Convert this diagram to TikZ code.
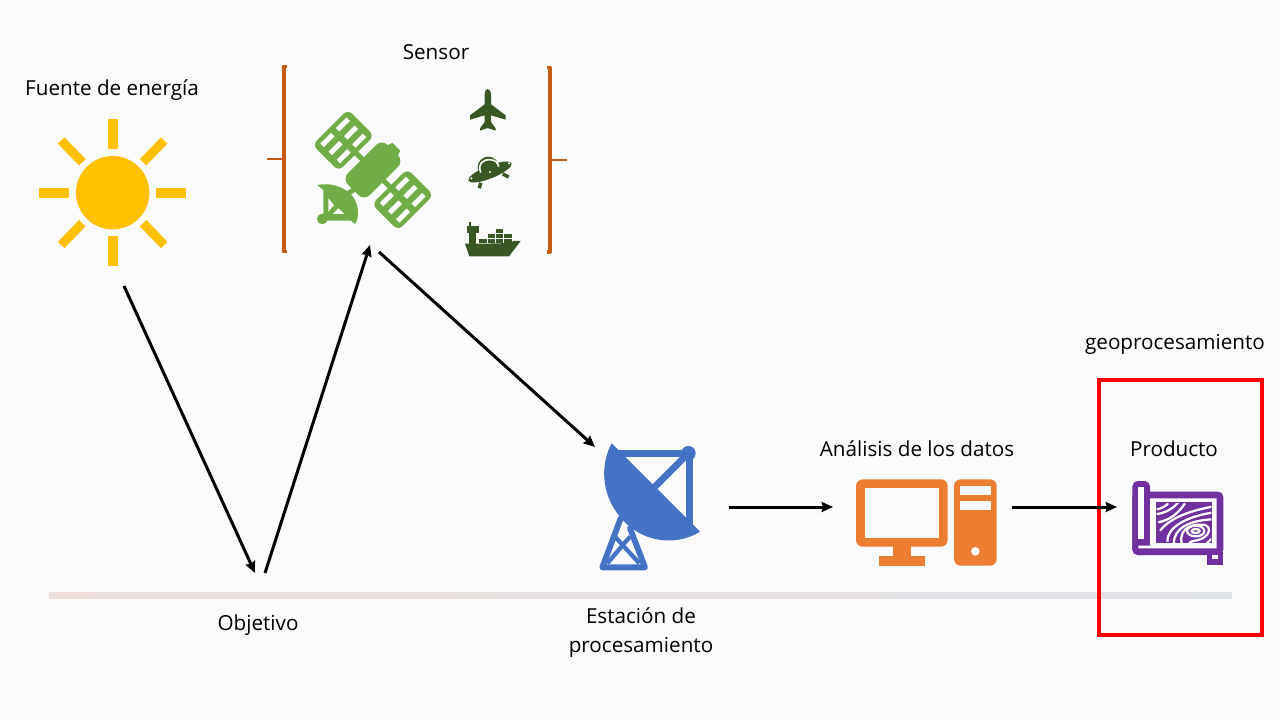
\documentclass[tikz,border=0pt]{standalone}
\usepackage{fontspec}
\setmainfont{Open Sans}
\usetikzlibrary{arrows.meta}
\definecolor{bgc}{HTML}{FBFBFB}
\definecolor{sunc}{HTML}{FFC000}
\definecolor{satc}{HTML}{70AD47}
\definecolor{darkg}{HTML}{385723}
\definecolor{brk}{HTML}{C55A11}
\definecolor{dishc}{HTML}{4472C4}
\definecolor{pcc}{HTML}{ED7D31}
\definecolor{mapc}{HTML}{7030A0}
\definecolor{lineL}{HTML}{EEDFDB}
\definecolor{lineR}{HTML}{E2E4EB}
\tikzset{
  lbl/.style={font=\fontsize{15.5pt}{21.75pt}\selectfont,text=black,inner sep=0pt,align=center},
  flow/.style={draw=black,line width=2.25pt,-{Stealth[length=8.5pt,width=7.5pt,inset=1pt]}},
  bracket/.style={draw=brk,line width=2.8pt,line join=round},
  brtick/.style={draw=brk,line width=1.5pt},
  ray/.style={draw=sunc,line width=7.3pt},
  diagray/.style={draw=sunc,line width=6.8pt},
  zm/.style={scale=0.33333},
  slot/.style={fill=bgc},
  contour/.style={draw=bgc,line width=1.7pt}
}
\begin{document}
\begin{tikzpicture}[x=0.75pt,y=-0.75pt]
\useasboundingbox (0,0) rectangle (1280,720);
\fill[bgc] (0,0) rectangle (1280,720);
% ground line
\shade[left color=lineL,right color=lineR] (49,592) rectangle (1232,598);
% sun
\fill[sunc] (112.7,192.7) circle[radius=36.7];
\draw[ray] (112.7,119.3)--(112.7,149.3);
\draw[ray] (112.7,236)--(112.7,266);
\draw[ray] (39.3,192.7)--(69.3,192.7);
\draw[ray] (156,192.7)--(186,192.7);
\draw[diagray] (61.2,140.5)--(82.3,162.2);
\draw[diagray] (164.2,140.5)--(143.1,162.2);
\draw[diagray] (61.2,245)--(82.3,223.2);
\draw[diagray] (164.2,245)--(143.1,223.2);
% brackets
\draw[bracket] (286.7,66.5)--(283.7,66.5)--(283.7,251.5)--(286.7,251.5);
\draw[brtick] (283.7,159)--(267,159);
\draw[bracket] (546.7,67.5)--(549.7,67.5)--(549.7,252)--(546.7,252);
\draw[brtick] (549.7,159.7)--(566.7,159.7);
% satellite
\begin{scope}[shift={(373,170)},rotate=45]
  \fill[satc,rounded corners=6pt] (-28,-15.5) rectangle (28,15.5);
  \fill[satc] (27,-7.5) -- (33,-5.5) -- (33,5.5) -- (27,7.5) -- cycle;
  \fill[satc] (-2.5,-27) rectangle (2.5,27);
  \foreach \s in {-42,42}{
    \fill[satc,rounded corners=4.5pt] (-25,\s-18.5) rectangle (25,\s+18.5);
    \foreach \c in {-11,11}\foreach \r in {-11.5,0,11.5}
      \fill[slot] (\c-7.5,\s+\r-2.5) rectangle (\c+7.5,\s+\r+2.5);
  }
\end{scope}
\begin{scope}[shift={(260,50)},zm]
  \fill[satc] (172,405) .. controls (225,395) and (270,420) .. (285,450)
     .. controls (297,475) and (297,505) .. (285,522) -- (273,512)
     -- (190,512) -- (190,420) -- cycle;
  \fill[satc] (187,507) circle[radius=16];
  \draw[satc,line width=3.8pt] (262,432) -- (292,412);
  \fill[slot] (205,445) -- (222,465) -- (205,485) -- cycle;
  \fill[slot] (235,475) -- (253,492) -- (218,492) -- cycle;
\end{scope}
% plane
\begin{scope}[shift={(450,80)},zm]
  \fill[darkg] (104,45) .. controls (104,33) and (109,27) .. (113,27)
     .. controls (117,27) and (123,33) .. (123,45) -- (123,135) -- (113,143) -- (104,135) -- cycle;
  \fill[darkg] (104,73) -- (60,106) -- (60,119) -- (104,106) -- (123,106) -- (167,119) -- (167,106) -- (123,73) -- cycle;
  \fill[darkg] (105,125) -- (90,145) -- (90,152) -- (113,144) -- (137,152) -- (137,145) -- (122,125) -- cycle;
\end{scope}
% ufo
\begin{scope}[shift={(260,50)},zm]
  \fill[darkg,rotate around={22:(690,366)}] (690,366) ellipse[x radius=70,y radius=19];
  \fill[darkg] (685,352) circle[radius=32];
  \draw[bgc,line width=1.2pt] (662,368) .. controls (652,340) and (672,327) .. (690,329) .. controls (706,330) and (714,338) .. (716,350);
  \fill[bgc] (634,385) circle[radius=3.5] (690,366) circle[radius=3.5] (747,340) circle[radius=3.5];
  \draw[darkg,line width=2.6pt] (662,398) -- (658,415);
  \draw[darkg,line width=2.6pt] (728,372) -- (746,381);
\end{scope}
% ship
\begin{scope}[shift={(450,80)},zm]
  \fill[darkg] (45,491) -- (100,491) -- (186,489) -- (188,483) -- (212,483) -- (177,529) -- (58,529) -- cycle;
  \fill[darkg] (57,425) rectangle (62,438);
  \fill[darkg] (52,437) rectangle (86,458);
  \fill[darkg] (58,458) rectangle (78,491);
  \foreach \cx/\cy in {88/476,113/462,113/476,138/447,138/462,138/476,163/462,163/476}
    \fill[darkg] (\cx,\cy) rectangle ++(22,12);
\end{scope}
% dish
\begin{scope}[shift={(580,430)},zm]
  \draw[dishc,line width=5pt] (105,70) -- (325,70);
  \draw[dishc,line width=5pt] (328,70) -- (328,290);
  \draw[dishc,line width=5pt] (325,70) -- (225,170);
  \fill[dishc] (325,70) circle[radius=22];
  \fill[dishc] (95,40) .. controls (65,95) and (62,175) .. (105,240)
     .. controls (165,335) and (280,355) .. (360,305) -- cycle;
  \draw[dishc,line width=4.4pt,line cap=round,line join=round] (122,265) -- (67,412) -- (195,412) -- (150,295);
  \draw[dishc,line width=3.2pt] (105,320) -- (178,400) (150,320) -- (82,400);
\end{scope}
% computer
\begin{scope}[shift={(840,470)},zm]
  \fill[pcc,rounded corners=5pt] (48,28) rectangle (323,230);
  \fill[bgc] (75,55) rectangle (297,203);
  \fill[pcc] (158,228) rectangle (213,260);
  \fill[pcc] (117,258) rectangle (255,287);
  \fill[pcc,rounded corners=5pt] (342,28) rectangle (470,287);
  \fill[bgc] (360,47) rectangle (452,75);
  \fill[bgc] (360,93) rectangle (452,121);
  \fill[bgc] (406,244) circle[radius=13];
\end{scope}
% map
\begin{scope}[shift={(1110,470)},zm]
  \fill[mapc,rounded corners=4pt] (67,33) rectangle (120,255);
  \fill[mapc,rounded corners=4pt] (67,65) rectangle (340,255);
  \fill[mapc] (290,245) rectangle (340,285);
  \fill[bgc] (85,50) rectangle (103,207);
  \fill[bgc] (120,85) -- (320,85) -- (320,235) -- (85,235) -- (85,227) -- (120,227) -- cycle;
  \fill[bgc] (305,255) rectangle (325,266);
  \fill[mapc] (137,97) rectangle (307,220);
  \begin{scope}
    \clip (140,100) rectangle (304,217);
    \draw[contour] (140,118) .. controls (155,115) and (165,110) .. (175,100);
    \draw[contour] (140,132) .. controls (165,130) and (190,115) .. (205,97);
    \draw[contour] (145,157) .. controls (180,150) and (205,130) .. (225,100);
    \draw[contour] (150,182) .. controls (175,150) and (225,125) .. (307,110);
    \draw[contour] (172,215) .. controls (170,175) and (225,140) .. (307,128);
    \draw[contour] (192,220) .. controls (190,175) and (240,150) .. (310,148);
    \draw[contour] (257,183) ellipse[x radius=12,y radius=6];
    \draw[contour] (257,183) ellipse[x radius=26,y radius=16];
    \draw[contour] (215,220) .. controls (205,170) and (255,160) .. (285,165) .. controls (305,172) and (300,200) .. (265,210) .. controls (250,213) and (240,214) .. (238,220);
    \draw[contour] (290,220) .. controls (298,212) and (304,208) .. (307,205);
  \end{scope}
\end{scope}
% red box
\node[draw=red,line width=3pt,inner sep=0pt,minimum width=122.25pt,minimum height=191.25pt] (prodbox) at (1180.5,507.5) {};
% labels
\node[lbl] (tsun) at (112,90) {Fuente de energía};
\node[lbl] (tsensor) at (436,52) {Sensor};
\node[lbl] (tgeo) at (1175,344) {geoprocesamiento};
\node[lbl] (tprod) at (1174,449) {Producto};
\node[lbl] (tana) at (917,449) {Análisis de los datos};
\node[lbl] (tobj) at (258,625) {Objetivo};
\node[lbl] (test) at (641,633) {Estación de\\procesamiento};
% connector ends
\coordinate (sunout) at (124,286);
\coordinate (objin) at (255,573);
\coordinate (objout) at (265,573);
\coordinate (satin) at (370,245);
\coordinate (satout) at (379,252);
\coordinate (dishin) at (595,447);
\coordinate (dishout) at (729,507);
\coordinate (pcin) at (833,507);
\coordinate (pcout) at (1012,507);
\coordinate (mapin) at (1117,507);
\draw[flow] (sunout) -- (objin);
\draw[flow] (objout) -- (satin);
\draw[flow] (satout) -- (dishin);
\draw[flow] (dishout) -- (pcin);
\draw[flow] (pcout) -- (mapin);
\end{tikzpicture}
\end{document}
